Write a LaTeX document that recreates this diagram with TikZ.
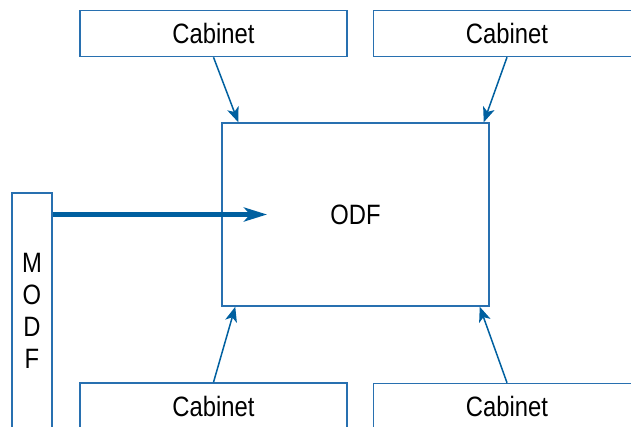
\documentclass[tikz,border=0pt]{standalone}
\usepackage{fontspec}
\setmainfont[FakeStretch=0.85]{Liberation Sans}
\usepackage{tikz}
\usetikzlibrary{arrows.meta, positioning}
\definecolor{linkblue}{RGB}{0,96,160}
\definecolor{boxblue}{RGB}{40,112,176}

\begin{document}
\begin{tikzpicture}[
    x=1pt, y=-1pt,
    cab/.style={draw=boxblue, line width=1.5pt, minimum width=267pt, minimum height=46pt, inner sep=0pt, font=\fontsize{28}{32}\selectfont},
    link/.style={-{Stealth[length=15pt, width=12pt, inset=4pt]}, line width=1.5pt, linkblue},
    trunk/.style={-{Stealth[length=23pt, width=14pt, inset=6pt]}, line width=5pt, linkblue}
]
    \useasboundingbox (0,0) rectangle (631,426);
    \clip (0,0) rectangle (631,426);

    % Central ODF
    \node[cab, minimum width=267pt, minimum height=183pt] (odf) at (355.5,214.5) {ODF};

    % Cabinets
    \node[cab] (tl) at (213.5,33.5) {Cabinet};
    \node[cab] (tr) at (507,33.5) {Cabinet};
    \node[cab] (bl) at (213.5,406) {Cabinet};
    \node[cab] (br) at (507,406.5) {Cabinet};

    % MODF
    \node[cab, minimum width=40pt, minimum height=235pt, align=center] (modf) at (32,310.5) {M\\O\\D\\F};
    \coordinate (odfin) at (267,214.5);

    % Connections
    \draw[link] (tl.south) -- ([xshift=17pt]odf.north west);
    \draw[link] (tr.south) -- ([xshift=-6pt]odf.north east);
    \draw[link] (bl.north) -- ([xshift=14pt]odf.south west);
    \draw[link] (br.north) -- ([xshift=-10pt]odf.south east);
    \draw[trunk] (modf.north east |- odf.center) -- (odfin);
\end{tikzpicture}
\end{document}
